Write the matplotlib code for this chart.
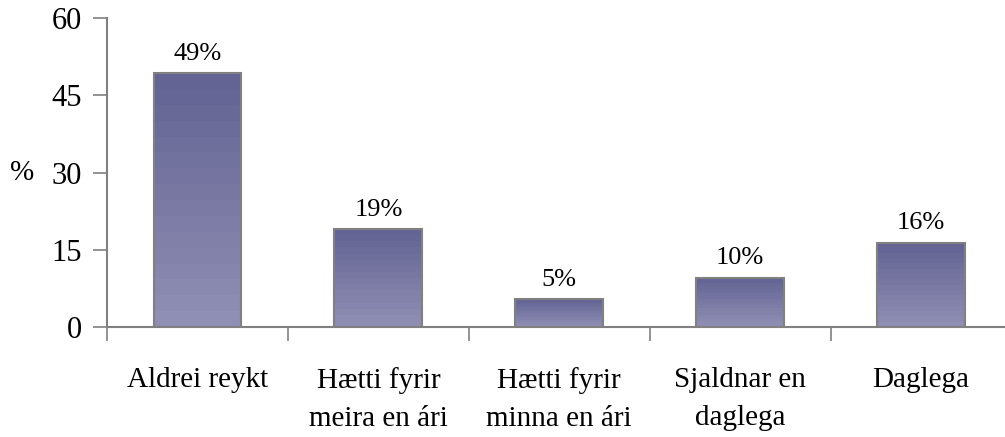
import numpy as np
import matplotlib
matplotlib.use("Agg")
import matplotlib.pyplot as plt
from matplotlib.colors import LinearSegmentedColormap

# Smoking status shares (%)
categories = ["Aldrei reykt", "Hætti fyrir\nmeira en ári", "Hætti fyrir\nminna en ári",
              "Sjaldnar en\ndaglega", "Daglega"]
shares = [49.3, 19.0, 5.4, 9.6, 16.4]
yticks = [0, 15, 30, 45, 60]

plt.rcParams["font.family"] = ["Liberation Serif", "DejaVu Serif"]

fig = plt.figure(figsize=(10.05, 4.37), dpi=100)
ax = fig.add_axes([0.1065, 0.2517, 0.9, 0.7071])

grey = "#808080"
cmap = LinearSegmentedColormap.from_list("bar", ["#8f8eb4", "#646494"])
grad = np.linspace(0, 1, 16).reshape(-1, 1)

width = 0.486
x = np.arange(len(categories))
for xi, val in zip(x, shares):
    ax.imshow(grad, cmap=cmap, origin="lower", aspect="auto",
              extent=[xi - width / 2, xi + width / 2, 0, val],
              interpolation="nearest", zorder=2)
bars = ax.bar(x, shares, width=width, facecolor="none", edgecolor=grey,
              linewidth=1.5, zorder=3)

for xi, val in zip(x, shares):
    ax.annotate(f"{val:.0f}%", (xi, val), xytext=(0, 6), textcoords="offset points",
                ha="center", va="bottom", fontsize=19)

ax.set_xlim(-0.5, -0.5 + 898 / 181)
ax.set_ylim(0, 60)
ax.set_yticks(yticks)
ax.set_yticklabels([str(t) for t in yticks], fontsize=22)

# category ticks sit on the boundaries, labels centred below each bar
ax.set_xticks(np.arange(len(categories) + 1) - 0.5)
ax.set_xticklabels([])
ax.set_xticks(x, minor=True)
ax.set_xticklabels(categories, minor=True, fontsize=21, linespacing=1.6, va="top")
ax.tick_params(axis="x", which="minor", length=0, pad=29)
ax.tick_params(axis="x", which="major", length=10, width=1.2, color=grey, direction="out")
ax.tick_params(axis="y", length=10, width=1.2, color=grey, pad=8)

ax.set_ylabel("%", fontsize=21, rotation=0, va="center")
ax.yaxis.set_label_coords(-0.094, 0.5)

for side in ["top", "right"]:
    ax.spines[side].set_visible(False)
for side in ["left", "bottom"]:
    ax.spines[side].set_color(grey)
    ax.spines[side].set_linewidth(1.5)

fig.savefig("out.png", dpi=100)
